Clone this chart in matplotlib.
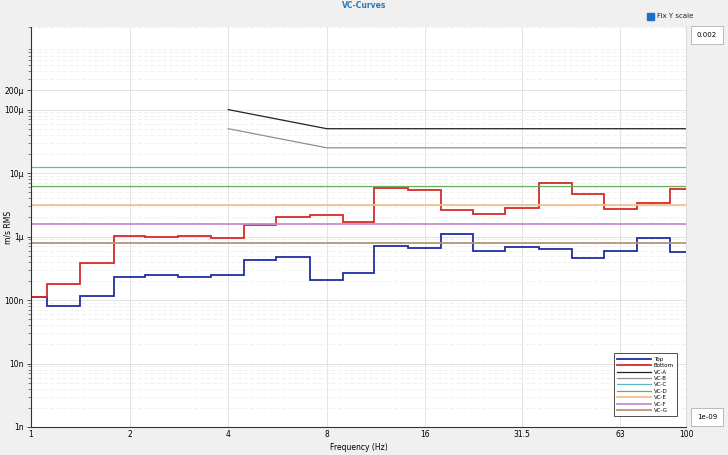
import numpy as np
import matplotlib.pyplot as plt
from matplotlib.patches import Rectangle
from matplotlib.ticker import FixedLocator, NullFormatter, LogLocator

# 1/3 octave band centre frequencies (Hz)
bands = [1, 1.25, 1.6, 2, 2.5, 3.15, 4, 5, 6.3, 8, 10, 12.5, 16, 20, 25,
         31.5, 40, 50, 63, 80, 100]

# measured velocity, m/s RMS
top = [110e-9, 80e-9, 116e-9, 233e-9, 245e-9, 231e-9, 251e-9, 424e-9, 472e-9,
       207e-9, 270e-9, 713e-9, 670e-9, 1.09e-6, 594e-9, 687e-9, 640e-9,
       456e-9, 601e-9, 964e-9, 580e-9]
bottom = [113e-9, 179e-9, 380e-9, 1.025e-6, 1.0e-6, 1.025e-6, 0.96e-6,
          1.53e-6, 2.0e-6, 2.2e-6, 1.69e-6, 5.87e-6, 5.4e-6, 2.6e-6, 2.28e-6,
          2.81e-6, 7.05e-6, 4.73e-6, 2.67e-6, 3.33e-6, 5.67e-6]

# VC criterion curves
vc_ab_freq = [4, 8, 100]
vc_a = [100e-6, 50e-6, 50e-6]
vc_b = [50e-6, 25e-6, 25e-6]
vc_flat_freq = [1, 100]
vc_c = 12.5e-6
vc_d = 6.25e-6
vc_e = 3.12e-6
vc_f = 1.56e-6
vc_g = 0.78e-6

xticks = [1, 2, 4, 8, 16, 31.5, 63, 100]
xticklabels = ["1", "2", "4", "8", "16", "31.5", "63", "100"]
yticks = [1e-9, 1e-8, 1e-7, 1e-6, 1e-5, 1e-4, 2e-4]
yticklabels = ["1n", "10n", "100n", "1\u03bc", "10\u03bc", "100\u03bc", "200\u03bc"]
ymin, ymax = 1e-9, 0.002

# band edges: geometric midpoints between centres, clipped to the plot range
c = np.array(bands)
edges = np.concatenate([[c[0]], np.sqrt(c[:-1] * c[1:]), [c[-1]]])

plt.rcParams["font.family"] = ["DejaVu Sans"]
bg = "#f0f0f0"
fig = plt.figure(figsize=(7.28, 4.55), dpi=100, facecolor=bg)
ax = fig.add_axes([31 / 728, 28 / 455, 655 / 728, 400 / 455])

ax.stairs(top, edges, color="#1f2fa0", lw=1.3, label="Top", baseline=None)
ax.stairs(bottom, edges, color="#d42a2a", lw=1.3, label="Bottom", baseline=None)
ax.plot(vc_ab_freq, vc_a, color="#222222", lw=0.9, label="VC-A")
ax.plot(vc_ab_freq, vc_b, color="#909090", lw=0.9, label="VC-B")
ax.plot(vc_flat_freq, [vc_c] * 2, color="#5cb8c4", lw=0.9, label="VC-C")
ax.plot(vc_flat_freq, [vc_d] * 2, color="#6aae60", lw=0.9, label="VC-D")
ax.plot(vc_flat_freq, [vc_e] * 2, color="#f4c08a", lw=1.3, label="VC-E")
ax.plot(vc_flat_freq, [vc_f] * 2, color="#c88ad0", lw=1.3, label="VC-F")
ax.plot(vc_flat_freq, [vc_g] * 2, color="#b4957a", lw=1.3, label="VC-G")

ax.set_xscale("log")
ax.set_yscale("log")
ax.set_xlim(1, 100)
ax.set_ylim(ymin, ymax)

ax.xaxis.set_major_locator(FixedLocator(xticks))
ax.set_xticklabels(xticklabels)
ax.xaxis.set_minor_formatter(NullFormatter())
ax.xaxis.set_minor_locator(FixedLocator([]))
ax.yaxis.set_major_locator(FixedLocator(yticks))
ax.set_yticklabels(yticklabels)
ax.yaxis.set_minor_locator(LogLocator(base=10, subs=np.arange(2, 10)))
ax.yaxis.set_minor_formatter(NullFormatter())

ax.tick_params(axis="both", which="major", labelsize=5.5, length=3, width=0.6,
               color="#333333", pad=2)
ax.tick_params(axis="y", which="minor", length=2, width=0.5, color="#555555")
ax.tick_params(axis="x", which="major", length=0)

ax.grid(True, which="major", color="#dedede", lw=0.6)
ax.grid(True, which="minor", axis="y", color="#ececec", lw=0.5, ls=(0, (6, 3)))
ax.set_axisbelow(True)

ax.spines["top"].set_visible(False)
ax.spines["right"].set_color("#dcdcdc")
ax.spines["left"].set_color("#333333")
ax.spines["bottom"].set_color("#333333")
ax.spines["left"].set_linewidth(0.8)
ax.spines["bottom"].set_linewidth(0.8)

ax.set_xlabel("Frequency (Hz)", fontsize=5.5, labelpad=3)
ax.set_ylabel("m/s RMS", fontsize=5.5)
ax.yaxis.set_label_coords(-0.029, 0.5)

leg = ax.legend(loc="lower right", bbox_to_anchor=(0.991, 0.02), fontsize=4,
                frameon=True, fancybox=False, edgecolor="#222222",
                handlelength=6, handletextpad=0.6, labelspacing=0.25,
                borderpad=0.6)
leg.get_frame().set_linewidth(0.7)

fig.text(364 / 728, 1 - 6 / 455, "VC-Curves", ha="center", va="center",
         fontsize=5.5, color="#2a7ab8", fontweight="bold")

# "Fix Y scale" checkbox
fig.patches.append(Rectangle((647 / 728, 1 - 20 / 455), 7 / 728, 7 / 455,
                             transform=fig.transFigure, facecolor="#1e6fc8",
                             edgecolor="#1e6fc8"))
fig.text(657 / 728, 1 - 16.5 / 455, "Fix Y scale", ha="left", va="center",
         fontsize=5, color="#222222")

# y-limit input boxes
box = dict(boxstyle="square,pad=0.9", facecolor="white", edgecolor="#b0b0b0",
           lw=0.6)
fig.text(707 / 728, 1 - 35 / 455, "0.002", ha="center", va="center",
         fontsize=5, bbox=box)
fig.text(707 / 728, 1 - 417 / 455, "1e-09", ha="center", va="center",
         fontsize=5, bbox=box)

fig.savefig("out.png", dpi=100, facecolor=bg)
